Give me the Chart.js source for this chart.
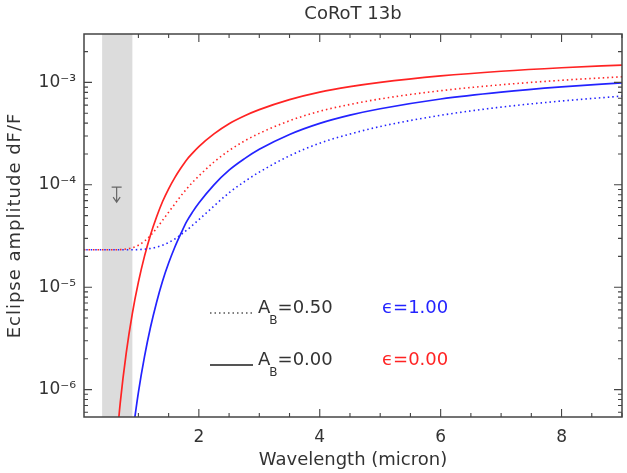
<!DOCTYPE html>
<html>
<head>
<meta charset="utf-8">
<script src="https://cdn.jsdelivr.net/npm/chart.js@4.4.0/dist/chart.umd.min.js"></script>
<style>
html, body { margin: 0; padding: 0; background: #fff; }
</style>
</head>
<body>
<canvas id="myChart" width="627" height="473"></canvas>
<script>
// wavelength in micron
var wavelength = [0.1, 0.4, 0.6, 0.7, 0.8, 0.9, 1.0, 1.1, 1.2, 1.3, 1.4, 1.5, 1.6, 1.7, 1.8, 1.9, 2.0, 2.25, 2.5, 2.75, 3.0, 3.5, 4.0, 4.5, 5.0, 6.0, 7.0, 8.0, 9.0];

// A_B=0.00, eps=0.00 (red solid)
var redSolid = [null, null, 1.66e-7, 7.46e-7, 2.31e-6, 5.56e-6, 1.12e-5, 2.00e-5, 3.24e-5, 4.85e-5, 6.87e-5, 9.14e-5, 1.17e-4, 1.45e-4, 1.76e-4, 2.05e-4, 2.36e-4, 3.14e-4, 3.95e-4, 4.70e-4, 5.42e-4, 6.79e-4, 8.04e-4, 9.08e-4, 1.00e-3, 1.156e-3, 1.285e-3, 1.39e-3, 1.476e-3];
// A_B=0.50, eps=0.00 (red dotted)
var redDotted = [2.32e-5, 2.32e-5, 2.32e-5, 2.33e-5, 2.36e-5, 2.43e-5, 2.57e-5, 2.82e-5, 3.20e-5, 3.76e-5, 4.50e-5, 5.40e-5, 6.47e-5, 7.76e-5, 9.14e-5, 1.064e-4, 1.22e-4, 1.67e-4, 2.16e-4, 2.67e-4, 3.18e-4, 4.22e-4, 5.23e-4, 6.09e-4, 6.90e-4, 8.30e-4, 9.48e-4, 1.049e-3, 1.135e-3];
// A_B=0.00, eps=1.00 (blue solid)
var blueSolid = [null, null, null, null, null, 3.56e-7, 9.42e-7, 2.09e-6, 4.06e-6, 7.10e-6, 1.15e-5, 1.72e-5, 2.44e-5, 3.31e-5, 4.39e-5, 5.47e-5, 6.64e-5, 1.00e-4, 1.39e-4, 1.79e-4, 2.22e-4, 3.10e-4, 3.98e-4, 4.79e-4, 5.53e-4, 6.89e-4, 8.04e-4, 9.04e-4, 9.91e-4];
// A_B=0.50, eps=1.00 (blue dotted)
var blueDotted = [2.32e-5, 2.32e-5, 2.32e-5, 2.32e-5, 2.32e-5, 2.32e-5, 2.33e-5, 2.35e-5, 2.39e-5, 2.46e-5, 2.57e-5, 2.73e-5, 2.95e-5, 3.25e-5, 3.61e-5, 4.05e-5, 4.56e-5, 6.21e-5, 8.36e-5, 1.07e-4, 1.33e-4, 1.92e-4, 2.55e-4, 3.13e-4, 3.71e-4, 4.77e-4, 5.74e-4, 6.58e-4, 7.35e-4];

var bandRange = [0.4, 0.9];        // CoRoT bandpass
var upperLimit = [0.64, 9.5e-5];   // upper limit point
var xMajor = [2, 4, 6, 8];
var yMajor = [1e-6, 1e-5, 1e-4, 1e-3];
var yLabels = ['10\u207B\u2076', '10\u207B\u2075', '10\u207B\u2074', '10\u207B\u00B3'];

var RED = 'rgb(255,35,35)';
var BLUE = 'rgb(35,35,255)';
var INK = '#333';
var FONT = '"DejaVu Sans", sans-serif';

function pts(ys) {
    var out = [];
    for (var i = 0; i < wavelength.length; i++) {
        if (ys[i] !== null) out.push({x: wavelength[i], y: ys[i]});
    }
    return out;
}

var xTicks = [];
for (var t = 1; t <= 9; t += 0.5) xTicks.push(t);
var yTicks = [];
for (var e = -7; e <= -3; e++) {
    for (var m = 1; m <= 9; m++) {
        var v = m * Math.pow(10, e);
        if (v >= 5.4e-7 && v <= 2.97e-3) yTicks.push(v);
    }
}

function isMajorY(v) {
    for (var i = 0; i < yMajor.length; i++) if (Math.abs(v / yMajor[i] - 1) < 1e-6) return i;
    return -1;
}

var decor = {
    id: 'decor',
    beforeDatasetsDraw: function (chart) {
        var ctx = chart.ctx, a = chart.chartArea, xs = chart.scales.x;
        ctx.save();
        ctx.fillStyle = '#dcdcdc';
        var x0 = xs.getPixelForValue(bandRange[0]), x1 = xs.getPixelForValue(bandRange[1]);
        ctx.fillRect(x0, a.top, x1 - x0, a.bottom - a.top);
        ctx.restore();
    },
    afterDraw: function (chart) {
        var ctx = chart.ctx, a = chart.chartArea, xs = chart.scales.x, ys = chart.scales.y;
        ctx.save();
        // frame
        ctx.strokeStyle = '#444';
        ctx.lineWidth = 1.5;
        ctx.strokeRect(a.left, a.top, a.right - a.left, a.bottom - a.top);
        // inward ticks
        ctx.lineWidth = 1.1;
        ctx.beginPath();
        xTicks.forEach(function (v) {
            var px = xs.getPixelForValue(v);
            var len = xMajor.indexOf(v) >= 0 ? 8 : 4;
            ctx.moveTo(px, a.bottom); ctx.lineTo(px, a.bottom - len);
            ctx.moveTo(px, a.top); ctx.lineTo(px, a.top + len);
        });
        yTicks.forEach(function (v) {
            var py = ys.getPixelForValue(v);
            var len = isMajorY(v) >= 0 ? 8 : 4;
            ctx.moveTo(a.left, py); ctx.lineTo(a.left + len, py);
            ctx.moveTo(a.right, py); ctx.lineTo(a.right - len, py);
        });
        ctx.stroke();

        // upper limit arrow
        var ux = xs.getPixelForValue(upperLimit[0]), uy = ys.getPixelForValue(upperLimit[1]);
        ctx.strokeStyle = '#666';
        ctx.lineWidth = 1.2;
        ctx.beginPath();
        ctx.moveTo(ux - 5, uy); ctx.lineTo(ux + 5, uy);
        ctx.moveTo(ux, uy); ctx.lineTo(ux, uy + 15);
        ctx.moveTo(ux - 3.5, uy + 10); ctx.lineTo(ux, uy + 15); ctx.lineTo(ux + 3.5, uy + 10);
        ctx.stroke();

        // titles
        ctx.fillStyle = INK;
        ctx.textAlign = 'center';
        ctx.textBaseline = 'middle';
        ctx.font = '18px ' + FONT;
        ctx.fillText('CoRoT 13b', (a.left + a.right) / 2, 14);
        ctx.fillText('Wavelength (micron)', (a.left + a.right) / 2, 460);
        ctx.save();
        ctx.translate(15, (a.top + a.bottom) / 2);
        ctx.rotate(-Math.PI / 2);
        ctx.letterSpacing = '1px';
        ctx.fillText('Eclipse amplitude dF/F', 0, 0);
        ctx.restore();

        // legend
        ctx.strokeStyle = '#555';
        ctx.lineWidth = 1.6;
        ctx.setLineDash([1.5, 3]);
        ctx.beginPath(); ctx.moveTo(210, 313); ctx.lineTo(252, 313); ctx.stroke();
        ctx.setLineDash([]);
        ctx.lineWidth = 1.8;
        ctx.beginPath(); ctx.moveTo(210, 365); ctx.lineTo(253, 365); ctx.stroke();

        function albedo(txt, y) {
            ctx.textAlign = 'left';
            ctx.fillStyle = INK;
            ctx.font = '18px ' + FONT;
            ctx.fillText('A', 258, y);
            var w = ctx.measureText('A').width;
            ctx.font = '12px ' + FONT;
            ctx.fillText('B', 257 + w, y + 13);
            var wb = ctx.measureText('B').width;
            ctx.font = '18px ' + FONT;
            ctx.fillText(txt, 257 + w + wb, y);
        }
        albedo('=0.50', 308);
        albedo('=0.00', 360);
        ctx.font = '18px ' + FONT;
        ctx.fillStyle = BLUE;
        ctx.fillText('\u03F5=1.00', 382, 308);
        ctx.fillStyle = RED;
        ctx.fillText('\u03F5=0.00', 382, 360);
        ctx.restore();
    }
};

var ctx = document.getElementById('myChart').getContext('2d');
var chart = new Chart(ctx, {
    type: 'line',
    data: {
        datasets: [
            {label: 'A_B=0.50 eps=0.00', data: pts(redDotted), borderColor: RED, borderWidth: 1.6, borderDash: [1.5, 3]},
            {label: 'A_B=0.50 eps=1.00', data: pts(blueDotted), borderColor: BLUE, borderWidth: 1.6, borderDash: [1.5, 3], borderDashOffset: 2.25},
            {label: 'A_B=0.00 eps=1.00', data: pts(blueSolid), borderColor: BLUE, borderWidth: 1.7},
            {label: 'A_B=0.00 eps=0.00', data: pts(redSolid), borderColor: RED, borderWidth: 1.7}
        ]
    },
    options: {
        responsive: false,
        animation: false,
        devicePixelRatio: 1,
        layout: {padding: {top: 34, right: 5, left: 0, bottom: 0}},
        elements: {
            point: {radius: 0},
            line: {cubicInterpolationMode: 'monotone', fill: false}
        },
        plugins: {legend: {display: false}, tooltip: {enabled: false}, title: {display: false}},
        scales: {
            x: {
                type: 'linear', min: 0.1, max: 9,
                afterFit: function (s) { s.height = 56; },
                afterBuildTicks: function (s) { s.ticks = xMajor.map(function (v) { return {value: v}; }); },
                grid: {display: false, drawTicks: false},
                border: {display: false},
                ticks: {padding: 10, color: INK, font: {family: FONT, size: 17}, maxRotation: 0,
                    callback: function (v) { return v; }}
            },
            y: {
                type: 'logarithmic', min: 5.4e-7, max: 2.97e-3,
                afterFit: function (s) { s.width = 84; },
                afterBuildTicks: function (s) { s.ticks = yMajor.map(function (v) { return {value: v}; }); },
                grid: {display: false, drawTicks: false},
                border: {display: false},
                ticks: {padding: 8, color: INK, font: {family: FONT, size: 17},
                    callback: function (v) { var i = isMajorY(v); return i >= 0 ? yLabels[i] : ''; }}
            }
        }
    },
    plugins: [decor]
});
</script>
</body>
</html>
